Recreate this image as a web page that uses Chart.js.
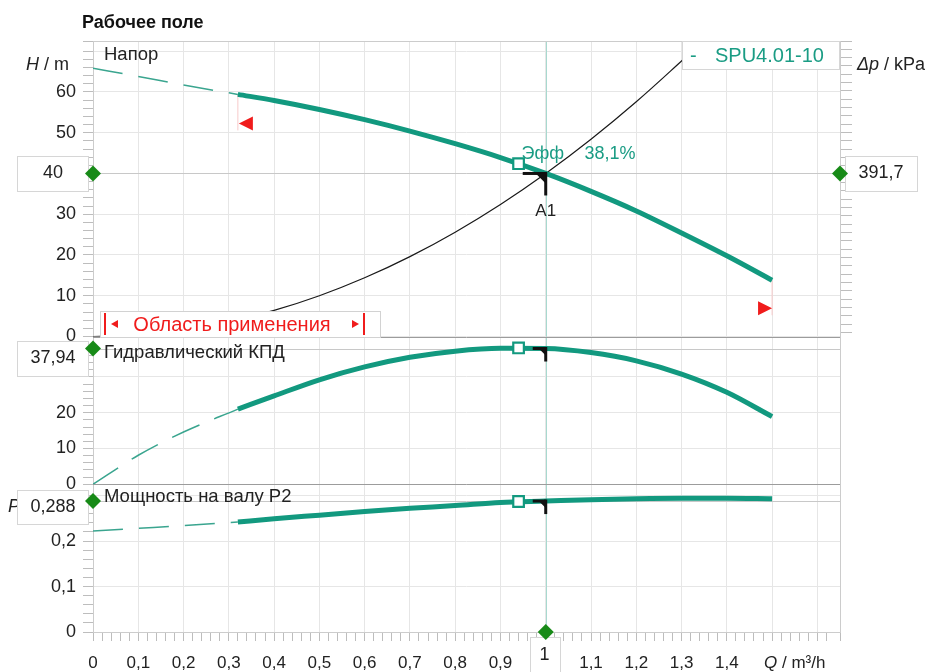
<!DOCTYPE html>
<html>
<head>
<meta charset="utf-8">
<title>Рабочее поле</title>
<script src="https://cdn.jsdelivr.net/npm/chart.js@4.4.1/dist/chart.umd.min.js"></script>
<style>
  html, body { margin: 0; padding: 0; background: #fff; }
  canvas { display: block; }
</style>
</head>
<body>
<canvas id="pumpChart" width="931" height="672"></canvas>
<script>
// Pump curve data
const qDashed = [0, 0.1, 0.2, 0.32];
const headDashed = [65.8, 63.8, 61.7, 59.4];
const effDashed = [0, 8.1, 14.6, 21.0];
const powerDashed = [0.222, 0.228, 0.234, 0.242];

const qSolid = [0.32, 0.4, 0.5, 0.6, 0.7, 0.8, 0.9, 1.0, 1.1, 1.2, 1.3, 1.4, 1.5];
const headSolid = [59.4, 57.9, 55.7, 53.2, 50.4, 47.3, 43.9, 40.0, 35.6, 30.8, 25.4, 19.8, 13.8];
const effSolid = [21.0, 24.7, 29.2, 32.8, 35.5, 37.2, 38.0, 37.94, 36.8, 34.5, 30.8, 25.7, 18.9];
const powerSolid = [0.242, 0.249, 0.257, 0.265, 0.272, 0.278, 0.285, 0.288, 0.291, 0.293, 0.294, 0.294, 0.293];

// System curve (black)
const qSystem = [0, 0.1, 0.2, 0.3, 0.4, 0.5, 0.6, 0.7, 0.8, 0.9, 1.0, 1.1, 1.2, 1.3, 1.34];
const headSystem = [0, 0.4, 1.6, 3.6, 6.4, 10.0, 14.4, 19.6, 25.6, 32.4, 40.0, 48.4, 57.6, 67.6, 71.8];

// Duty point A1 and best efficiency point
const dutyFlow = 1.0, dutyHead = 40, dutyPressure = 391.7, dutyEff = 37.94, dutyPower = 0.288;
const bestFlow = 0.94, bestHead = 42.4, bestEff = 38.1, bestPower = 0.287;

// Axis ranges and tick labels
const qMax = 1.65, hMax = 72.5, effMax = 41.3, powerMax = 0.325;
const qTickLabels = [0, 0.1, 0.2, 0.3, 0.4, 0.5, 0.6, 0.7, 0.8, 0.9, 1.1, 1.2, 1.3, 1.4];
const hTickLabels = [0, 10, 20, 30, 50, 60];
const dpTickLabels = [0, 100, 200, 300, 500];
const effTickLabels = [0, 10, 20];
const powerTickLabels = [0, 0.1, 0.2];

const GREEN = '#12997f';
const GREEN_DASH = '#3aa58f';
const GREEN_TEXT = '#1a9c84';
const DIAMOND = '#178a17';
const RED = '#f01c1c';
const INK = '#222222';
const GRID = '#e6e6e6';
const MINOR = '#bdbdbd';
const FONT = '"Liberation Sans", Arial, sans-serif';

const pts = (xs, ys) => xs.map((x, i) => ({ x, y: ys[i] }));
const isStep = (v, step) => Math.abs(v / step - Math.round(v / step)) < 1e-6;
const hasTick = (list, v) => list.some(t => Math.abs(t - v) < 1e-6);
const fmt = v => String(Math.round(v * 1000) / 1000).replace('.', ',');

function line(ctx, x1, y1, x2, y2) {
  ctx.beginPath();
  ctx.moveTo(x1, y1);
  ctx.lineTo(x2, y2);
  ctx.stroke();
}

function text(ctx, str, px, py, font, color, align) {
  ctx.font = font;
  ctx.fillStyle = color;
  ctx.textAlign = align || 'left';
  ctx.textBaseline = 'middle';
  ctx.fillText(str, px, py);
  return ctx.measureText(str).width;
}

// parts: [[string, italic], ...]
function mixedText(ctx, parts, px, py, size, color) {
  let cx = px;
  parts.forEach(([s, italic]) => {
    cx += text(ctx, s, cx, py, (italic ? 'italic ' : '') + size + 'px ' + FONT, color);
  });
}

function valueBox(ctx, left, top, w, h, str, cx, cy) {
  ctx.fillStyle = '#ffffff';
  ctx.fillRect(left, top, w, h);
  ctx.strokeStyle = '#d6d6d6';
  ctx.lineWidth = 1;
  ctx.strokeRect(left + 0.5, top + 0.5, w, h);
  text(ctx, str, cx, cy, '18px ' + FONT, INK, 'center');
}

function cornerMark(ctx, px, py, armX, armY, tri) {
  ctx.strokeStyle = '#111';
  ctx.lineWidth = 3;
  line(ctx, px - armX, py, px, py);
  line(ctx, px, py - 1.5, px, py + armY);
  ctx.fillStyle = '#111';
  ctx.beginPath();
  ctx.moveTo(px - tri, py);
  ctx.lineTo(px, py);
  ctx.lineTo(px, py + tri);
  ctx.closePath();
  ctx.fill();
}

function triangle(ctx, tipX, cy, dir) {
  ctx.fillStyle = RED;
  ctx.beginPath();
  ctx.moveTo(tipX, cy);
  ctx.lineTo(tipX + dir * 14, cy - 7);
  ctx.lineTo(tipX + dir * 14, cy + 7);
  ctx.closePath();
  ctx.fill();
}

const overlay = {
  id: 'overlay',
  beforeDatasetsDraw(chart) {
    const { ctx, chartArea: a } = chart;
    const { x, yH, yEta, yP } = chart.scales;
    const xd = Math.round(x.getPixelForValue(dutyFlow)) + 0.5;
    ctx.save();
    ctx.lineWidth = 1;

    // duty point guide lines
    ctx.strokeStyle = '#c8c8c8';
    [[yH, dutyHead], [yEta, dutyEff], [yP, dutyPower]].forEach(([s, v]) => {
      const py = Math.round(s.getPixelForValue(v)) + 0.5;
      line(ctx, a.left, py, a.right, py);
    });
    ctx.strokeStyle = '#a8d9cf';
    line(ctx, xd, a.top, xd, a.bottom);

    // frame and panel separators
    ctx.strokeStyle = '#cccccc';
    ctx.strokeRect(Math.round(a.left) + 0.5, Math.round(a.top) + 0.5, Math.round(a.width), Math.round(a.height));
    ctx.strokeStyle = '#9c9c9c';
    [yH, yEta].forEach(s => {
      const py = Math.round(s.getPixelForValue(0)) + 0.5;
      line(ctx, a.left, py, a.right, py);
    });

    // application range limits (faint lines)
    ctx.strokeStyle = '#f7caca';
    const xl = x.getPixelForValue(qSolid[0]);
    const yl = yH.getPixelForValue(headSolid[0]);
    line(ctx, xl, yl, xl, yl + 36);
    const xr = x.getPixelForValue(qSolid[qSolid.length - 1]);
    const yr = yH.getPixelForValue(headSolid[headSolid.length - 1]);
    line(ctx, xr, yr, xr, yr + 35);

    // titles
    text(ctx, 'Рабочее поле', 82, 23, 'bold 18px ' + FONT, '#111');
    mixedText(ctx, [['H', true], [' / m', false]], 26, 65, 18, INK);
    mixedText(ctx, [['\u0394p', true], [' / kPa', false]], 857, 65, 18, INK);
    mixedText(ctx, [['Q', true], [' / m\u00b3/h', false]], 764, 663, 17, INK);
    text(ctx, 'P', 8, 507, 'italic 18px ' + FONT, INK);

    // value boxes at the duty point
    const yd = yH.getPixelForValue(dutyHead);
    valueBox(ctx, 17, Math.round(yd) - 17, 71, 35, fmt(dutyHead), 53, yd);
    valueBox(ctx, a.right + 5, Math.round(yd) - 17, 72, 35, fmt(dutyPressure), a.right + 41, yd);
    valueBox(ctx, 17, Math.round(yEta.top) + 4, 71, 35, fmt(dutyEff), 53, yEta.top + 22);
    valueBox(ctx, 17, Math.round(yP.top) + 6, 71, 34, fmt(dutyPower), 53, yP.top + 22.5);
    valueBox(ctx, Math.round(xd) - 17, Math.round(a.bottom) + 5, 30, 40, fmt(dutyFlow), xd - 2, 655);
    ctx.restore();
  },
  afterDatasetsDraw(chart) {
    const { ctx, chartArea: a } = chart;
    const { x, yH, yEta, yP } = chart.scales;
    const xd = x.getPixelForValue(dutyFlow);
    const yd = yH.getPixelForValue(dutyHead);
    ctx.save();

    // A1 duty point marks
    cornerMark(ctx, xd, yd, 23, 22, 10);
    cornerMark(ctx, xd, yEta.getPixelForValue(dutyEff), 13, 13, 7);
    cornerMark(ctx, xd, yP.getPixelForValue(dutyPower), 13, 13, 7);
    text(ctx, 'A1', xd, 211, '17px ' + FONT, INK, 'center');

    // best efficiency label
    const xb = x.getPixelForValue(bestFlow);
    const yb = yH.getPixelForValue(bestHead);
    text(ctx, 'Эфф', xb + 3, yb - 10, '18px ' + FONT, GREEN_TEXT);
    text(ctx, fmt(bestEff) + '%', xb + 66, yb - 10, '18px ' + FONT, GREEN_TEXT);

    // panel captions
    text(ctx, 'Напор', a.left + 11, a.top + 14, '18.5px ' + FONT, INK);
    text(ctx, 'Гидравлический КПД', a.left + 11, yEta.top + 16, '18.5px ' + FONT, INK);
    text(ctx, 'Мощность на валу P2', a.left + 11, yP.top + 13, '18.5px ' + FONT, INK);

    // series legend box
    ctx.fillStyle = '#ffffff';
    ctx.fillRect(a.right - 158, a.top, 158, 29);
    ctx.strokeStyle = '#d6d6d6';
    ctx.lineWidth = 1;
    ctx.strokeRect(a.right - 157.5, a.top + 0.5, 157, 28);
    text(ctx, '-', a.right - 150, a.top + 15, '20px ' + FONT, GREEN_TEXT);
    text(ctx, 'SPU4.01-10', a.right - 125, a.top + 15, '20px ' + FONT, GREEN_TEXT);

    // application range box
    const y0 = Math.round(yH.getPixelForValue(0));
    const bx = Math.round(a.left) + 7;
    ctx.fillStyle = '#ffffff';
    ctx.fillRect(bx, y0 - 26, 280, 26);
    ctx.strokeStyle = '#d2d2d2';
    ctx.strokeRect(bx + 0.5, y0 - 25.5, 280, 26);
    ctx.strokeStyle = RED;
    ctx.lineWidth = 2;
    line(ctx, bx + 5, y0 - 24, bx + 5, y0 - 2);
    line(ctx, bx + 264, y0 - 24, bx + 264, y0 - 2);
    ctx.fillStyle = RED;
    ctx.beginPath();
    ctx.moveTo(bx + 11, y0 - 13); ctx.lineTo(bx + 18, y0 - 17); ctx.lineTo(bx + 18, y0 - 9);
    ctx.closePath(); ctx.fill();
    ctx.beginPath();
    ctx.moveTo(bx + 259, y0 - 13); ctx.lineTo(bx + 252, y0 - 17); ctx.lineTo(bx + 252, y0 - 9);
    ctx.closePath(); ctx.fill();
    text(ctx, 'Область применения', bx + 132, y0 - 12, '20px ' + FONT, RED, 'center');

    // application range triangles
    const xl = x.getPixelForValue(qSolid[0]);
    triangle(ctx, xl + 1, yH.getPixelForValue(headSolid[0]) + 29, 1);
    const xr = x.getPixelForValue(qSolid[qSolid.length - 1]);
    triangle(ctx, xr, yH.getPixelForValue(headSolid[headSolid.length - 1]) + 28, -1);
    ctx.restore();
  }
};

const solid = { borderColor: GREEN, borderWidth: 5, pointRadius: 0, cubicInterpolationMode: 'monotone', fill: false };
const dashed = { borderColor: GREEN_DASH, borderWidth: 1.5, borderDash: [30, 16], pointRadius: 0, cubicInterpolationMode: 'monotone', fill: false };
const square = { showLine: false, pointStyle: 'rect', pointRadius: 7.5, pointBorderWidth: 2.2, pointBorderColor: GREEN, pointBackgroundColor: '#ffffff' };
const diamond = { showLine: false, pointStyle: 'rectRot', pointRadius: 8, pointBorderWidth: 0, pointBackgroundColor: DIAMOND, clip: false };

function leftAxis(max, step, labels, gridStep, weight, stackWeight) {
  return {
    type: 'linear', position: 'left', stack: 'left', stackWeight, weight,
    min: 0, max,
    afterFit: s => { s.width = 93; },
    border: { display: false },
    grid: {
      color: c => isStep(c.tick.value, gridStep) ? GRID : 'transparent',
      tickColor: MINOR, tickLength: 10
    },
    ticks: {
      stepSize: step, autoSkip: false, padding: 7, color: INK,
      font: { family: FONT, size: 18 },
      callback: v => hasTick(labels, v) ? fmt(v) : ''
    }
  };
}

new Chart(document.getElementById('pumpChart'), {
  type: 'line',
  data: {
    datasets: [
      { ...diamond, data: [{ x: 0, y: dutyHead }, { x: qMax, y: dutyHead }], yAxisID: 'yH' },
      { ...diamond, data: [{ x: 0, y: dutyEff }], yAxisID: 'yEta' },
      { ...diamond, data: [{ x: 0, y: dutyPower }, { x: dutyFlow, y: 0 }], yAxisID: 'yP' },
      { ...square, data: [{ x: bestFlow, y: bestHead }], yAxisID: 'yH' },
      { ...square, data: [{ x: bestFlow, y: bestEff }], yAxisID: 'yEta' },
      { ...square, data: [{ x: bestFlow, y: bestPower }], yAxisID: 'yP' },
      { ...solid, data: pts(qSolid, headSolid), yAxisID: 'yH' },
      { ...solid, data: pts(qSolid, effSolid), yAxisID: 'yEta' },
      { ...solid, data: pts(qSolid, powerSolid), yAxisID: 'yP' },
      { ...dashed, data: pts(qDashed, headDashed), yAxisID: 'yH' },
      { ...dashed, data: pts(qDashed, effDashed), yAxisID: 'yEta' },
      { ...dashed, data: pts(qDashed, powerDashed), yAxisID: 'yP' },
      { data: pts(qSystem, headSystem), yAxisID: 'yH', borderColor: '#1a1a1a', borderWidth: 1.2, pointRadius: 0, tension: 0.4, fill: false }
    ]
  },
  options: {
    responsive: false,
    animation: false,
    devicePixelRatio: 1,
    layout: { padding: { top: 41, left: 0, right: 0, bottom: 0 } },
    plugins: { legend: { display: false }, tooltip: { enabled: false }, title: { display: false } },
    scales: {
      x: {
        type: 'linear', position: 'bottom', min: 0, max: qMax,
        afterFit: s => { s.height = 40; },
        border: { display: false },
        grid: {
          color: c => isStep(c.tick.value, 0.1) ? GRID : 'transparent',
          tickColor: MINOR, tickLength: 9
        },
        ticks: {
          stepSize: 0.02, autoSkip: false, maxRotation: 0, padding: 12, color: INK,
          font: { family: FONT, size: 17 },
          callback: v => hasTick(qTickLabels, v) ? fmt(v) : ''
        }
      },
      yH: leftAxis(hMax, 2, hTickLabels, 10, 3, 2),
      yEta: leftAxis(effMax, 2, effTickLabels, 10, 2, 1),
      yP: leftAxis(powerMax, 0.02, powerTickLabels, 0.1, 1, 1),
      yDp: {
        type: 'linear', position: 'right',
        min: -hMax * dutyPressure / dutyHead, max: hMax * dutyPressure / dutyHead,
        afterFit: s => { s.width = 91; },
        border: { display: false },
        grid: {
          drawOnChartArea: false,
          tickColor: c => c.tick.value > -0.01 ? MINOR : 'transparent',
          tickLength: 12
        },
        ticks: {
          stepSize: 20, autoSkip: false, padding: 6, color: INK,
          font: { family: FONT, size: 18 },
          callback: v => hasTick(dpTickLabels, v) ? fmt(v) : ''
        }
      }
    }
  },
  plugins: [overlay]
});
</script>
</body>
</html>
